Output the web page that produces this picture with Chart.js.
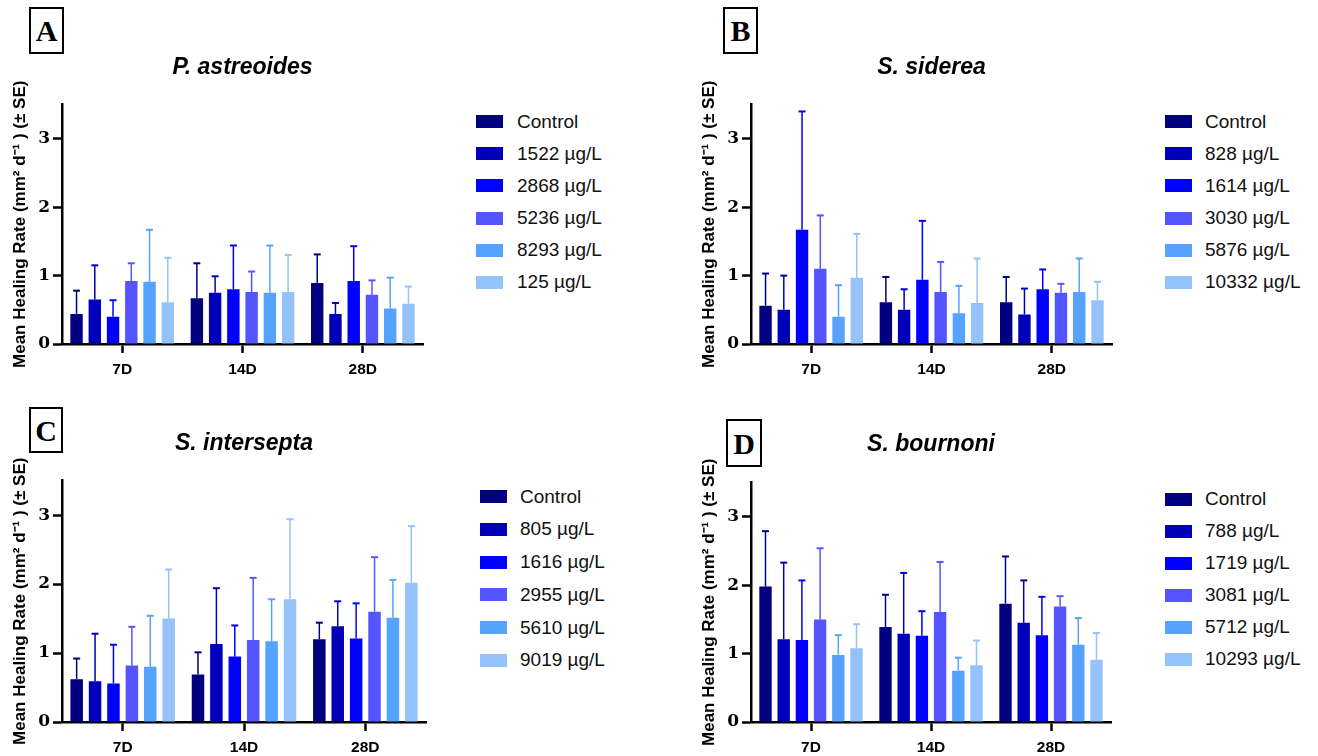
<!DOCTYPE html>
<html>
<head>
<meta charset="utf-8">
<script src="https://cdn.jsdelivr.net/npm/chart.js@4.4.1/dist/chart.umd.min.js"></script>
<style>
  body { margin: 0; width: 1318px; height: 756px; background: #fff; position: relative; overflow: hidden;
         font-family: 'Liberation Sans', Arial, sans-serif; }
  canvas { position: absolute; }
  .tag { position: absolute; border: 2px solid #000; box-sizing: border-box; text-align: center;
         font: bold 30px 'Liberation Serif', 'Times New Roman', serif; color: #000; }
  .swatch { position: absolute; width: 27px; height: 13px; }
  .ltext { position: absolute; font-size: 19px; line-height: 22px; height: 22px; color: #111; white-space: nowrap; }
</style>
</head>
<body>
<div class="tag" style="left:29px;top:7px;width:35px;height:47px;line-height:44px;">A</div>
<div class="tag" style="left:723px;top:7px;width:35px;height:47px;line-height:44px;">B</div>
<div class="tag" style="left:29px;top:407px;width:34px;height:46px;line-height:43px;">C</div>
<div class="tag" style="left:726px;top:419px;width:36px;height:48px;line-height:45px;">D</div>

<canvas id="chartA" width="425" height="378" style="left:0px;top:0px;"></canvas>
<canvas id="chartB" width="425" height="378" style="left:689px;top:0px;"></canvas>
<canvas id="chartC" width="428" height="376" style="left:0px;top:380px;"></canvas>
<canvas id="chartD" width="424" height="376" style="left:689px;top:380px;"></canvas>

<script>
// sampling days on the x axis
const days = ['7D', '14D', '28D'];
// y axis tick labels
const yTicks = [0, 1, 2, 3];
// one colour per treatment, control first
const seriesColors = ['#000080', '#0000BB', '#0000FF', '#5555FF', '#55A2FF', '#94C2FB'];

// A - P. astreoides
const astreoidesDoses = ['Control', '1522 µg/L', '2868 µg/L', '5236 µg/L', '8293 µg/L', '125 µg/L'];
const astreoidesMeans = [
  [0.44, 0.67, 0.89], [0.65, 0.75, 0.44], [0.40, 0.80, 0.92],
  [0.92, 0.76, 0.72], [0.91, 0.75, 0.52], [0.61, 0.76, 0.59]
];
const astreoidesSE = [
  [0.34, 0.51, 0.42], [0.50, 0.24, 0.16], [0.24, 0.64, 0.51],
  [0.26, 0.30, 0.21], [0.76, 0.69, 0.45], [0.65, 0.54, 0.25]
];

// B - S. siderea
const sidereaDoses = ['Control', '828 µg/L', '1614 µg/L', '3030 µg/L', '5876 µg/L', '10332 µg/L'];
const sidereaMeans = [
  [0.56, 0.61, 0.61], [0.50, 0.50, 0.43], [1.67, 0.94, 0.80],
  [1.10, 0.76, 0.75], [0.40, 0.45, 0.76], [0.97, 0.60, 0.64]
];
const sidereaSE = [
  [0.47, 0.37, 0.37], [0.50, 0.30, 0.38], [1.73, 0.86, 0.29],
  [0.78, 0.44, 0.13], [0.46, 0.40, 0.49], [0.64, 0.65, 0.27]
];

// C - S. intersepta
const interseptaDoses = ['Control', '805 µg/L', '1616 µg/L', '2955 µg/L', '5610 µg/L', '9019 µg/L'];
const interseptaMeans = [
  [0.62, 0.69, 1.20], [0.59, 1.13, 1.39], [0.56, 0.95, 1.21],
  [0.82, 1.19, 1.60], [0.80, 1.17, 1.51], [1.50, 1.78, 2.02]
];
const interseptaSE = [
  [0.30, 0.32, 0.24], [0.69, 0.81, 0.36], [0.56, 0.45, 0.51],
  [0.56, 0.90, 0.79], [0.74, 0.61, 0.55], [0.71, 1.16, 0.82]
];

// D - S. bournoni
const bournoniDoses = ['Control', '788 µg/L', '1719 µg/L', '3081 µg/L', '5712 µg/L', '10293 µg/L'];
const bournoniMeans = [
  [1.98, 1.39, 1.73], [1.21, 1.29, 1.45], [1.20, 1.26, 1.27],
  [1.50, 1.61, 1.69], [0.98, 0.75, 1.13], [1.08, 0.83, 0.91]
];
const bournoniSE = [
  [0.81, 0.47, 0.69], [1.12, 0.89, 0.62], [0.87, 0.36, 0.56],
  [1.04, 0.73, 0.15], [0.29, 0.19, 0.39], [0.35, 0.36, 0.39]
];

// upper error bars (mean + SE), drawn on the y scale of each chart
const errorBars = {
  id: 'errorBars',
  afterDatasetsDraw(chart) {
    const ctx = chart.ctx;
    const y = chart.scales.y;
    ctx.save();
    chart.data.datasets.forEach((ds, i) => {
      const meta = chart.getDatasetMeta(i);
      ctx.strokeStyle = ds.backgroundColor;
      meta.data.forEach((bar, j) => {
        const top = y.getPixelForValue(ds.data[j] + ds.se[j]);
        ctx.lineWidth = 1.5;
        ctx.beginPath();
        ctx.moveTo(bar.x, bar.y);
        ctx.lineTo(bar.x, top);
        ctx.stroke();
        ctx.lineWidth = 2;
        ctx.beginPath();
        ctx.moveTo(bar.x - 3.5, top);
        ctx.lineTo(bar.x + 3.5, top);
        ctx.stroke();
      });
    });
    ctx.restore();
  }
};

function makeChart(id, title, doses, means, se, titlePad, xHeight) {
  const ctx = document.getElementById(id).getContext('2d');
  return new Chart(ctx, {
    type: 'bar',
    data: {
      labels: days,
      datasets: doses.map((d, i) => ({
        label: d,
        data: means[i],
        se: se[i],
        backgroundColor: seriesColors[i],
        categoryPercentage: 0.91,
        barPercentage: 0.68
      }))
    },
    options: {
      responsive: false,
      animation: false,
      devicePixelRatio: 1,
      layout: { padding: { left: 0, right: 2, top: 0, bottom: 0 }, autoPadding: false },
      plugins: {
        legend: { display: false },
        tooltip: { enabled: false },
        title: {
          display: true,
          text: title,
          fullSize: false,
          color: '#000',
          font: { family: "'Liberation Sans', Arial, sans-serif", size: 23, weight: 'bold', style: 'italic', lineHeight: 1.2 },
          padding: titlePad
        }
      },
      scales: {
        x: {
          afterFit: s => { s.height = xHeight; },
          grid: { display: true, drawOnChartArea: false, offset: false, tickLength: 9, tickWidth: 2.5, tickColor: '#000' },
          border: { display: true, color: '#000', width: 2.5 },
          ticks: { color: '#000', padding: 7,
                   font: { family: "'Liberation Sans', Arial, sans-serif", size: 15.5, weight: 'bold' } }
        },
        y: {
          min: 0,
          max: 3.5,
          afterFit: s => { s.width = 62; },
          afterBuildTicks: s => { s.ticks = yTicks.map(v => ({ value: v })); },
          grid: { display: true, drawOnChartArea: false, tickLength: 9, tickWidth: 2.5, tickColor: '#000' },
          border: { display: true, color: '#000', width: 2.5 },
          ticks: { color: '#000', padding: 3,
                   font: { family: "'DejaVu Serif', 'Liberation Serif', serif", size: 17, weight: 'bold' } },
          title: {
            display: true,
            text: 'Mean Healing Rate (mm² d⁻¹ ) (± SE)',
            color: '#000',
            padding: { top: 10, bottom: 0 },
            font: { family: "'Liberation Sans', Arial, sans-serif", size: 17, weight: 'bold', lineHeight: 1.2 }
          }
        }
      }
    },
    plugins: [errorBars]
  });
}

// legend built from the chart's own datasets
function buildLegend(chart, swatchX, textX, y0, step) {
  chart.data.datasets.forEach((ds, i) => {
    const cy = y0 + i * step;
    const sw = document.createElement('div');
    sw.className = 'swatch';
    sw.style.left = swatchX + 'px';
    sw.style.top = (cy - 6.5) + 'px';
    sw.style.background = ds.backgroundColor;
    document.body.appendChild(sw);
    const tx = document.createElement('div');
    tx.className = 'ltext';
    tx.style.left = textX + 'px';
    tx.style.top = (cy - 11) + 'px';
    tx.textContent = ds.label;
    document.body.appendChild(tx);
  });
}

const chartA = makeChart('chartA', 'P. astreoides', astreoidesDoses, astreoidesMeans, astreoidesSE, { top: 53.5, bottom: 23.5 }, 34);
const chartB = makeChart('chartB', 'S. siderea', sidereaDoses, sidereaMeans, sidereaSE, { top: 53.5, bottom: 23.5 }, 34);
const chartC = makeChart('chartC', 'S. intersepta', interseptaDoses, interseptaMeans, interseptaSE, { top: 49.5, bottom: 23.5 }, 34);
const chartD = makeChart('chartD', 'S. bournoni', bournoniDoses, bournoniMeans, bournoniSE, { top: 51, bottom: 24 }, 34);

buildLegend(chartA, 476, 517, 121.7, 32.1);
buildLegend(chartB, 1165, 1205, 121.7, 32.1);
buildLegend(chartC, 480, 520, 496.7, 32.7);
buildLegend(chartD, 1165, 1205, 499.3, 32);
</script>
</body>
</html>
